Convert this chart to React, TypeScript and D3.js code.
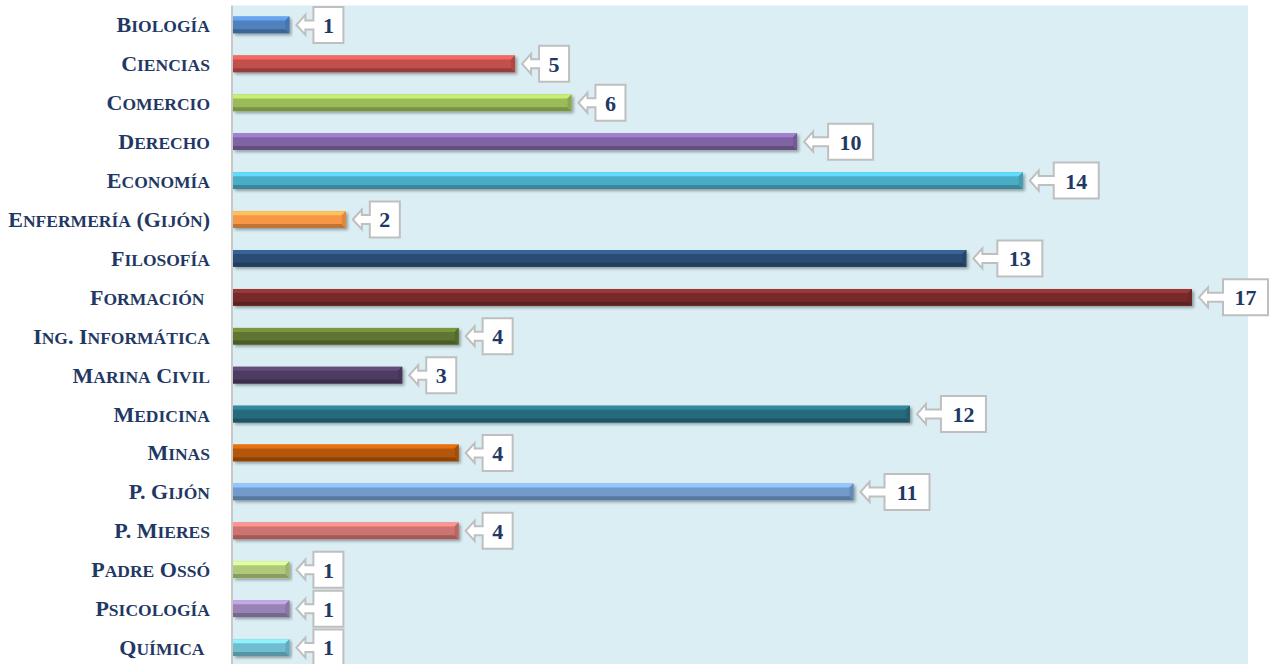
import React from 'react';
import * as d3 from 'd3';

const categories = [
  'Biología', 'Ciencias', 'Comercio', 'Derecho', 'Economía', 'Enfermería (Gijón)',
  'Filosofía', 'Formación ', 'Ing. Informática', 'Marina Civil', 'Medicina', 'Minas',
  'P. Gijón', 'P. Mieres', 'Padre Ossó', 'Psicología', 'Química ',
];
const values = [1, 5, 6, 10, 14, 2, 13, 17, 4, 3, 12, 4, 11, 4, 1, 1, 1];
const colors = [
  '#4F81BD', '#C0504D', '#9BBB59', '#8064A2', '#4BACC6', '#F79646',
  '#2C4D75', '#772C2A', '#5F7530', '#4D3B62', '#276A7C', '#B65708',
  '#729ACA', '#CD7371', '#AFC97A', '#9983B5', '#6FBDD1',
];

const W = 1274;
const H = 664;
const plotLeft = 233;
const plotRight = 1248;
const plotTop = 5.5;
const plotBottom = 667;
const navy = '#1F3864';
const serif = '"Liberation Serif", "DejaVu Serif", serif';

// split a label into runs of full-size capitals and small capitals
function smallCaps(s: string) {
  const runs: { t: string; big: boolean }[] = [];
  for (const ch of s) {
    const isLower = ch !== ch.toUpperCase();
    const big = !isLower;
    const t = isLower ? ch.toUpperCase() : ch;
    const last = runs[runs.length - 1];
    if (last && last.big === big) last.t += t;
    else runs.push({ t, big });
  }
  return runs;
}

export default function App() {
  const x = d3.scaleLinear().domain([0, 17]).range([plotLeft, 1192]);
  const y = d3.scaleBand<string>()
    .domain(categories)
    .range([plotTop, plotBottom])
    .paddingInner(0.57)
    .paddingOuter(0.285);
  const bh = y.bandwidth();
  const b = 4;

  return (
    <svg width={W} height={H} style={{ position: 'absolute', left: 0, top: 0 }}>
      <defs>
        <filter id="shadow" x="-5%" y="-50%" width="110%" height="200%">
          <feDropShadow dx="2" dy="2" stdDeviation="1.5" floodColor="#000" floodOpacity="0.35" />
        </filter>
      </defs>
      <rect x={plotLeft} y={plotTop} width={plotRight - plotLeft} height={H} fill="#DAEEF3" />
      <line x1={plotLeft - 1} x2={plotLeft - 1} y1={plotTop} y2={H} stroke="#C8C8C8" strokeWidth={2} />

      {categories.map((c, i) => {
        const y0 = y(c)!;
        const y1 = y0 + bh;
        const x0 = x(0);
        const x1 = x(values[i]);
        const base = d3.color(colors[i])!;
        const light = base.brighter(0.7).formatHex();
        const dark = base.darker(0.7).formatHex();
        const mid = base.darker(0.3).formatHex();
        return (
          <g key={c}>
            <g filter="url(#shadow)">
              <rect x={x0} y={y0} width={x1 - x0} height={bh} fill={colors[i]} />
            </g>
            <polygon points={`${x0},${y0} ${x1},${y0} ${x1 - b},${y0 + b} ${x0},${y0 + b}`} fill={light} />
            <polygon points={`${x0},${y1} ${x1},${y1} ${x1 - b},${y1 - b} ${x0},${y1 - b}`} fill={dark} />
            <polygon points={`${x1},${y0} ${x1},${y1} ${x1 - b},${y1 - b} ${x1 - b},${y0 + b}`} fill={mid} />
          </g>
        );
      })}

      {categories.map((c) => {
        const cy = y(c)! + bh / 2;
        return (
          <text
            key={'l' + c}
            x={210}
            y={cy + 7.5}
            textAnchor="end"
            fill={navy}
            fontFamily={serif}
            fontWeight="bold"
            style={{ whiteSpace: 'pre' }}
          >
            {smallCaps(c).map((r, k) => (
              <tspan key={k} fontSize={r.big ? 22 : 17.5}>{r.t}</tspan>
            ))}
          </text>
        );
      })}

      {categories.map((c, i) => {
        const cy = y(c)! + bh / 2;
        const label = String(values[i]);
        const twoDigit = label.length > 1;
        const tx = x(values[i]) + 7;
        const hx = tx + 9;
        const bx = hx + (twoDigit ? 15 : 8);
        const br = bx + (twoDigit ? 45 : 30);
        const top = cy - 18;
        const bot = cy + 18;
        const d = `M${tx},${cy} L${hx},${cy - 10} L${hx},${cy - 4.5} L${bx},${cy - 4.5} L${bx},${top} L${br},${top} L${br},${bot} L${bx},${bot} L${bx},${cy + 4.5} L${hx},${cy + 4.5} L${hx},${cy + 10} Z`;
        return (
          <g key={'c' + c}>
            <path d={d} fill="#fff" stroke="#BFBFBF" strokeWidth={2} strokeLinejoin="miter" />
            <text
              x={(bx + br) / 2}
              y={cy}
              dy="0.36em"
              textAnchor="middle"
              fill={navy}
              fontFamily={serif}
              fontWeight="bold"
              fontSize={22}
            >
              {label}
            </text>
          </g>
        );
      })}
    </svg>
  );
}
